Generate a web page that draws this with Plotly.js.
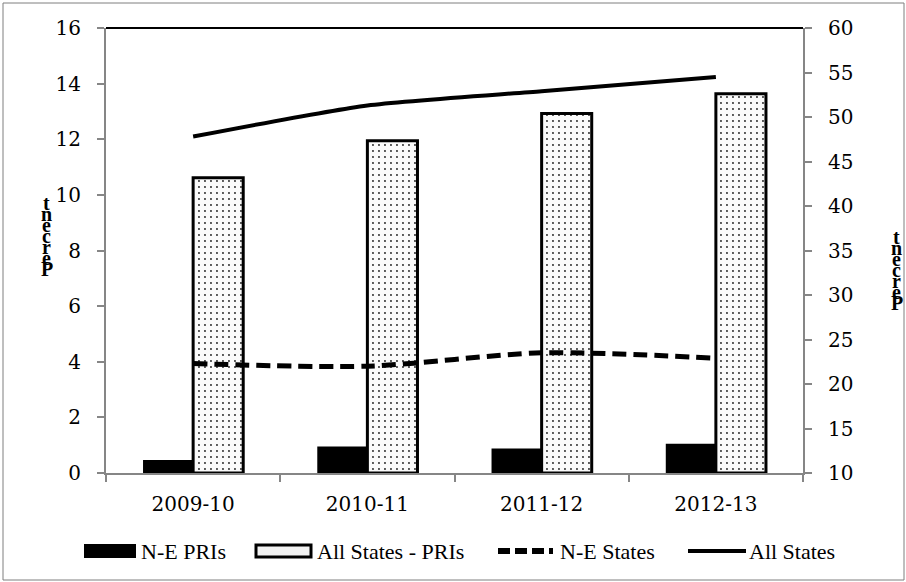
<!DOCTYPE html>
<html>
<head>
<meta charset="utf-8">
<script src="https://cdn.plot.ly/plotly-3.0.1.min.js"></script>
<style>
html,body{margin:0;padding:0;background:#fff;}
#chart{width:906px;height:582px;}
</style>
</head>
<body>
<div id="chart"></div>
<script>
// ---- data ----
const categories = ['2009-10', '2010-11', '2011-12', '2012-13'];
const nePRIs = [0.47, 0.95, 0.88, 1.05];
const allStatesPRIs = [10.62, 11.95, 12.93, 13.64];
const neStates = [22.3, 22.0, 23.5, 22.9];
const allStates = [47.8, 51.3, 52.9, 54.5];
const seriesNames = ['N-E PRIs', 'All States - PRIs', 'N-E States', 'All States'];
const axisTitle = 'Percent';
const leftTicks = [0, 2, 4, 6, 8, 10, 12, 14, 16];
const rightTicks = [10, 15, 20, 25, 30, 35, 40, 45, 50, 55, 60];

// ---- layout helpers ----
const W = 906, H = 582, ML = 106, MR = 103, MT = 28, MB = 109;
const PW = W - ML - MR, PH = H - MT - MB;
const px = x => (x - ML) / PW;
const py = y => (H - MB - y) / PH;

const tickFont = {family: 'DejaVu Serif', size: 20, color: '#000'};
const legFont = {family: 'Liberation Serif', size: 22, color: '#000'};
const axisGray = '#868686';

const traces = [
  {type: 'bar', x: categories, y: nePRIs, name: seriesNames[0], yaxis: 'y',
   marker: {color: '#000', line: {width: 0}}, showlegend: false},
  {type: 'bar', x: categories, y: allStatesPRIs, name: seriesNames[1], yaxis: 'y',
   marker: {color: '#fff', line: {color: '#000', width: 3},
            pattern: {shape: '.', fgcolor: '#222', bgcolor: '#fafafa', size: 6, solidity: 0.08}},
   showlegend: false},
  {type: 'scatter', mode: 'lines', x: categories, y: neStates, name: seriesNames[2], yaxis: 'y2',
   line: {color: '#000', width: 5, dash: '14px,7px', shape: 'spline', smoothing: 0.8}, showlegend: false},
  {type: 'scatter', mode: 'lines', x: categories, y: allStates, name: seriesNames[3], yaxis: 'y2',
   line: {color: '#000', width: 4, shape: 'spline', smoothing: 0.6}, showlegend: false}
];

const shapes = [
  // outer frame
  {type: 'rect', xref: 'paper', yref: 'paper', x0: px(3), x1: px(904), y0: py(580), y1: py(3),
   line: {color: '#7f7f7f', width: 1}, fillcolor: 'rgba(0,0,0,0)', layer: 'below'},
  // top border of plot area
  {type: 'line', xref: 'paper', yref: 'paper', x0: 0, x1: 1, y0: 1, y1: 1,
   line: {color: '#000', width: 2}},
  // legend symbols
  {type: 'rect', xref: 'paper', yref: 'paper', x0: px(84), x1: px(136), y0: py(558), y1: py(544),
   line: {width: 0}, fillcolor: '#000'},
  {type: 'rect', xref: 'paper', yref: 'paper', x0: px(256), x1: px(311), y0: py(557), y1: py(545),
   line: {color: '#000', width: 3}, fillcolor: '#f2f2f2'},
  {type: 'line', xref: 'paper', yref: 'paper', x0: px(498), x1: px(553), y0: py(551), y1: py(551),
   line: {color: '#000', width: 6, dash: '12px,5px'}},
  {type: 'line', xref: 'paper', yref: 'paper', x0: px(688), x1: px(746), y0: py(551), y1: py(551),
   line: {color: '#000', width: 4}}
];

const legendX = [139, 315, 558, 747];
const annotations = seriesNames.map((n, i) => ({
  text: n, xref: 'paper', yref: 'paper', x: px(legendX[i]), y: py(551),
  xanchor: 'left', yanchor: 'middle', showarrow: false, font: legFont
}));

// stacked axis titles (letters bottom-to-top)
const letters = axisTitle.split('').reverse();
const letterFont = {family: 'Liberation Serif', size: 20, color: '#000', weight: 'bold'};
letters.forEach((ch, i) => {
  annotations.push({text: ch, xref: 'paper', yref: 'paper', x: px(47), y: py(203 + i * 11),
    xanchor: 'center', yanchor: 'middle', showarrow: false, font: letterFont});
  annotations.push({text: ch, xref: 'paper', yref: 'paper', x: px(897), y: py(237 + i * 11),
    xanchor: 'center', yanchor: 'middle', showarrow: false, font: letterFont});
});

const layout = {
  width: W, height: H,
  margin: {l: ML, r: MR, t: MT, b: MB, pad: 0},
  paper_bgcolor: '#fff', plot_bgcolor: '#fff',
  barmode: 'group', bargap: 0.425, bargroupgap: 0,
  showlegend: false,
  xaxis: {type: 'category', range: [-0.5, 3.5], showline: true, linecolor: axisGray, linewidth: 2,
          ticks: 'outside', tickson: 'boundaries', ticklen: 7, tickwidth: 2, tickcolor: axisGray,
          showgrid: false, zeroline: false, tickfont: tickFont, ticklabelstandoff: 12, fixedrange: true},
  yaxis: {range: [0, 16], tickvals: leftTicks, showline: true, linecolor: axisGray, linewidth: 2,
          ticks: 'outside', ticklen: 7, tickwidth: 2, tickcolor: axisGray,
          showgrid: false, zeroline: false, tickfont: tickFont, ticklabelstandoff: 12},
  yaxis2: {range: [10, 60], tickvals: rightTicks, overlaying: 'y', side: 'right', showline: true,
           linecolor: axisGray, linewidth: 2, ticks: 'outside', ticklen: 7, tickwidth: 2,
           tickcolor: axisGray, showgrid: false, zeroline: false, tickfont: tickFont, ticklabelstandoff: 12},
  shapes: shapes,
  annotations: annotations
};

Plotly.newPlot('chart', traces, layout, {displayModeBar: false, staticPlot: true});
</script>
</body>
</html>
